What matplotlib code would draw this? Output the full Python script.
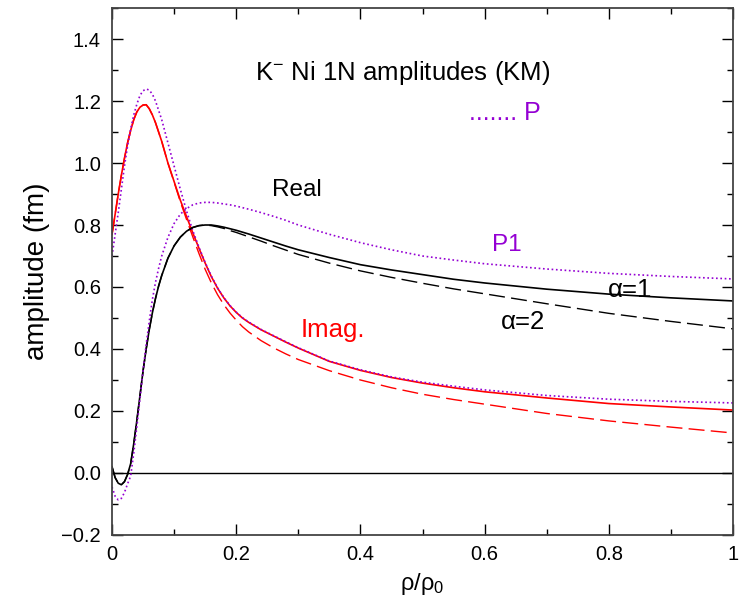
import numpy as np
import matplotlib
matplotlib.use('Agg')
import matplotlib.pyplot as plt
from matplotlib.ticker import MultipleLocator

plt.rcParams['font.family'] = ['Liberation Sans', 'DejaVu Sans']
plt.rcParams['mathtext.default'] = 'regular'

# common rho/rho0 grid
xs = [0, 0.005, 0.01, 0.015, 0.02, 0.025, 0.03, 0.035, 0.04, 0.045, 0.05, 0.055,
      0.06, 0.065, 0.07, 0.075, 0.08, 0.09, 0.10, 0.11, 0.12, 0.13, 0.14, 0.15,
      0.16, 0.17, 0.18, 0.19, 0.20, 0.21, 0.22, 0.24, 0.26, 0.28, 0.30, 0.35, 0.40,
      0.45, 0.50, 0.55, 0.60, 0.70, 0.80, 0.90, 1.0]

# Imag. part
im_a1 = [0.77, 0.835, 0.90, 0.96, 1.015, 1.065, 1.105, 1.14, 1.165, 1.18, 1.187, 1.188,
         1.175, 1.155, 1.13, 1.10, 1.07, 1.00, 0.94, 0.88, 0.827, 0.775, 0.725, 0.677,
         0.633, 0.596, 0.565, 0.539, 0.518, 0.50, 0.486, 0.462, 0.442, 0.422, 0.403, 0.36, 0.331,
         0.308, 0.29, 0.275, 0.262, 0.242, 0.224, 0.213, 0.203]
im_a2 = [0.77, 0.835, 0.90, 0.96, 1.015, 1.065, 1.105, 1.14, 1.165, 1.18, 1.187, 1.188,
         1.175, 1.155, 1.13, 1.10, 1.07, 1.00, 0.938, 0.875, 0.818, 0.762, 0.708, 0.657,
         0.613, 0.575, 0.543, 0.516, 0.493, 0.472, 0.455, 0.427, 0.404, 0.384, 0.366, 0.33, 0.30,
         0.275, 0.254, 0.237, 0.222, 0.192, 0.168, 0.148, 0.129]
im_p = [0.70, 0.77, 0.84, 0.915, 0.99, 1.055, 1.11, 1.155, 1.19, 1.218, 1.233, 1.239,
        1.235, 1.222, 1.20, 1.17, 1.14, 1.065, 0.99, 0.915, 0.845, 0.782, 0.728, 0.679,
        0.635, 0.597, 0.566, 0.54, 0.519, 0.501, 0.487, 0.463, 0.443, 0.423, 0.404, 0.361, 0.333,
        0.31, 0.293, 0.28, 0.268, 0.25, 0.238, 0.231, 0.226]

# Real part
re_a1 = [0.02, -0.015, -0.033, -0.038, -0.028, -0.005, 0.03, 0.095, 0.17, 0.25, 0.33, 0.40,
         0.463, 0.517, 0.563, 0.603, 0.637, 0.693, 0.733, 0.761, 0.78, 0.792, 0.798, 0.80,
         0.80, 0.797, 0.793, 0.788, 0.783, 0.777, 0.771, 0.758, 0.745, 0.732, 0.72, 0.695, 0.672,
         0.655, 0.64, 0.625, 0.613, 0.593, 0.577, 0.565, 0.555]
re_a2 = [0.02, -0.015, -0.033, -0.038, -0.028, -0.005, 0.03, 0.095, 0.17, 0.25, 0.33, 0.40,
         0.463, 0.517, 0.563, 0.603, 0.637, 0.693, 0.733, 0.761, 0.78, 0.792, 0.798, 0.80,
         0.798, 0.794, 0.789, 0.782, 0.776, 0.769, 0.762, 0.748, 0.733, 0.719, 0.705, 0.677, 0.652,
         0.631, 0.612, 0.594, 0.578, 0.546, 0.515, 0.489, 0.465]
re_p = [-0.045, -0.075, -0.087, -0.082, -0.063, -0.035, -0.01, 0.065, 0.15, 0.24, 0.33, 0.415,
        0.49, 0.56, 0.615, 0.66, 0.70, 0.76, 0.805, 0.835, 0.853, 0.865, 0.871, 0.873,
        0.873, 0.871, 0.868, 0.865, 0.861, 0.856, 0.851, 0.84, 0.828, 0.815, 0.80, 0.77, 0.743,
        0.72, 0.70, 0.687, 0.675, 0.658, 0.644, 0.634, 0.626]

purple = '#9400d3'
dash = (11.5, 4.5)
dot = (0, (1, 1.6))

fig = plt.figure(figsize=(7.39, 6.03), dpi=100)
ax = fig.add_axes([0.1516, 0.1128, 0.8403, 0.8739])

ax.axhline(0, color='black', lw=1.0)

ax.plot(xs, im_a1, color='red', lw=1.2)
ax.plot(xs, im_a2, color='red', lw=1.0, dashes=dash)
ax.plot(xs, im_p, color=purple, lw=1.2, ls=dot)

ax.plot(xs, re_a1, color='black', lw=1.2)
ax.plot(xs, re_a2, color='black', lw=1.0, dashes=dash)
ax.plot(xs, re_p, color=purple, lw=1.2, ls=dot)

ax.set_xlim(0, 1)
ax.set_ylim(-0.2, 1.5)
ax.xaxis.set_minor_locator(MultipleLocator(0.1))
ax.yaxis.set_minor_locator(MultipleLocator(0.1))
ax.set_yticks(np.arange(-0.2, 1.41, 0.2))
ax.set_yticklabels(['\u22120.2', '0.0', '0.2', '0.4', '0.6', '0.8', '1.0', '1.2', '1.4'])
ax.set_xticks([0, 0.2, 0.4, 0.6, 0.8, 1.0])
ax.set_xticklabels(['0', '0.2', '0.4', '0.6', '0.8', '1'])
ax.tick_params(which='both', direction='in', top=True, right=True, labelsize=14.5)
ax.tick_params(axis='y', pad=8)
ax.tick_params(axis='x', pad=7)
ax.tick_params(which='major', length=8, width=1.0)
ax.tick_params(which='minor', length=4, width=1.0)
for s in ax.spines.values():
    s.set_linewidth(1.3)
    s.set_color('#444444')

ax.set_xlabel(r'ρ/ρ$_0$', fontsize=17, labelpad=5)
ax.set_ylabel('amplitude (fm)', fontsize=20, labelpad=8)

ax.text(0.23, 1.29, r'K$^{-}$ Ni 1N amplitudes (KM)', fontsize=18.5, va='center')
ax.text(0.575, 1.16, '....... P', fontsize=18, color=purple, va='center')
ax.text(0.298, 0.913, 'Real', fontsize=17.5, va='center', ha='center')
ax.text(0.636, 0.735, 'P1', fontsize=17.5, color=purple, va='center', ha='center')
ax.text(0.834, 0.59, 'α=1', fontsize=18.5, va='center', ha='center')
ax.text(0.662, 0.487, 'α=2', fontsize=18.5, va='center', ha='center')
ax.text(0.356, 0.461, 'Imag.', fontsize=18.5, color='red', va='center', ha='center')

fig.savefig('out.png', dpi=100)
